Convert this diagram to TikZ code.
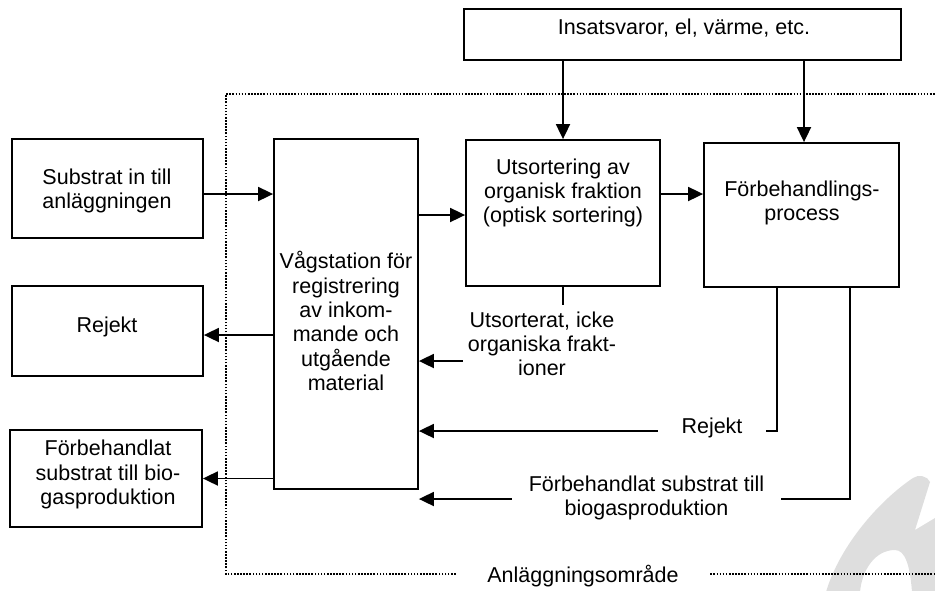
\documentclass[tikz,border=0pt]{standalone}
\usepackage{fontspec}
\setmainfont{Liberation Sans}
\newfontfamily\headserif{Liberation Serif}
\usetikzlibrary{arrows.meta}

\begin{document}
\begin{tikzpicture}[x=1pt,y=-1pt,
  box/.style={draw, line width=1.8pt, inner sep=0pt},
  txt/.style={align=center, inner sep=0pt, font=\fontsize{21.5}{24.3}\selectfont},
  link/.style={line width=1.8pt},
  arr/.style={link, -{Triangle[length=15pt,width=14pt]}},
  zone/.style={line width=1.6pt, dash pattern=on 1.6pt off 1.5pt},
]
\useasboundingbox (0,0) rectangle (935,590);

% light grey mark in the lower right corner
\fill[black!13] (826,592) .. controls (840,545) and (880,500) .. (913,478)
  .. controls (918,474) and (928,476) .. (930,482) -- (915,530) -- (935,518)
  -- (935,592) -- (912,592) .. controls (910,565) and (905,550) .. (895,550)
  .. controls (875,550) and (862,570) .. (860,592) -- cycle;

% descender of the heading above the figure
\node[anchor=base west, inner sep=0pt, font=\headserif\bfseries\fontsize{70}{70}\selectfont] (head) at (121,-32) {g};

% boxes
\node[box, minimum width=437pt, minimum height=51pt] (ins) at (682.5,34.5) {};
\node[box, minimum width=191pt, minimum height=99pt] (subs) at (107.5,188.5) {};
\node[box, minimum width=191pt, minimum height=90pt] (rej) at (107.5,331) {};
\node[box, minimum width=192pt, minimum height=97pt] (forb) at (106,478.5) {};
\node[box, minimum width=144pt, minimum height=350pt] (vag) at (346,314) {};
\node[box, minimum width=194pt, minimum height=146pt] (uts) at (563,213) {};
\node[box, minimum width=195pt, minimum height=144pt] (fbp) at (801.5,215) {};

% box texts
\node[txt] (inst) at (684,28) {Insatsvaror, el, värme, etc.};
\node[txt] (subst) at (107,191) {Substrat in till\\anläggningen};
\node[txt] (rejt) at (107,327) {Rejekt};
\node[txt] (forbt) at (108,474.5) {Förbehandlat\\substrat till bio-\\gasproduktion};
\node[txt] (vagt) at (346,321) {Vågstation för\\registrering\\av inkom-\\mande och\\utgående\\material};
\node[txt] (utst) at (563,193) {Utsortering av\\organisk fraktion\\(optisk sortering)};
\node[txt] (fbpt) at (802,203) {Förbehandlings-\\process};

% flow labels
\node[txt, inner xsep=5pt] (utsl) at (542,344) {Utsorterat, icke\\organiska frakt-\\ioner};
\node[txt, inner xsep=23.5pt] (rejl) at (712,427.5) {Rejekt};
\node[txt, inner xsep=17pt] (fbl) at (646.5,498) {Förbehandlat substrat till\\biogasproduktion};
\node[txt, inner xsep=31.5pt] (aln) at (583,576) {Anläggningsområde};

% flows
\draw[arr] (ins.south -| uts.north) -- (uts.north);
\draw[arr] ([xshift=2.5pt]ins.south -| fbp.north) -- ([xshift=2.5pt]fbp.north);
\draw[arr] ([yshift=-5.5pt]subs.east) -- ([yshift=-5.5pt]subs.east -| vag.west);
\draw[arr] ([yshift=-2pt]vag.east |- uts.west) -- ([yshift=-2pt]uts.west);
\draw[arr] ([yshift=19pt]uts.east) -- ([yshift=19pt]uts.east -| fbp.west);
\draw[arr] ([yshift=-4pt]rej.east -| vag.west) -- ([yshift=-4pt]rej.east);
\draw[arr] (forb.east -| vag.west) -- (forb.east);
\draw[link] (uts.south) -- ++(0,18);
\draw[arr] ([yshift=-17pt]utsl.west) -- ([yshift=-17pt]utsl.west -| vag.east);
\draw[link] ([xshift=74pt]fbp.south west) |- ([yshift=-3.5pt]rejl.east);
\draw[arr] ([yshift=-3.5pt]rejl.west) -- ([yshift=-3.5pt]rejl.west -| vag.east);
\draw[link] ([xshift=-50pt]fbp.south east) |- ([yshift=-1pt]fbl.east);
\draw[arr] ([yshift=-1pt]fbl.west) -- ([yshift=-1pt]fbl.west -| vag.east);

% plant area boundary
\draw[zone] ([yshift=2pt]aln.west) -| (226,94) -- (950,94);
\draw[zone] ([yshift=2pt]aln.east) -- (950,574);
\end{tikzpicture}
\end{document}
